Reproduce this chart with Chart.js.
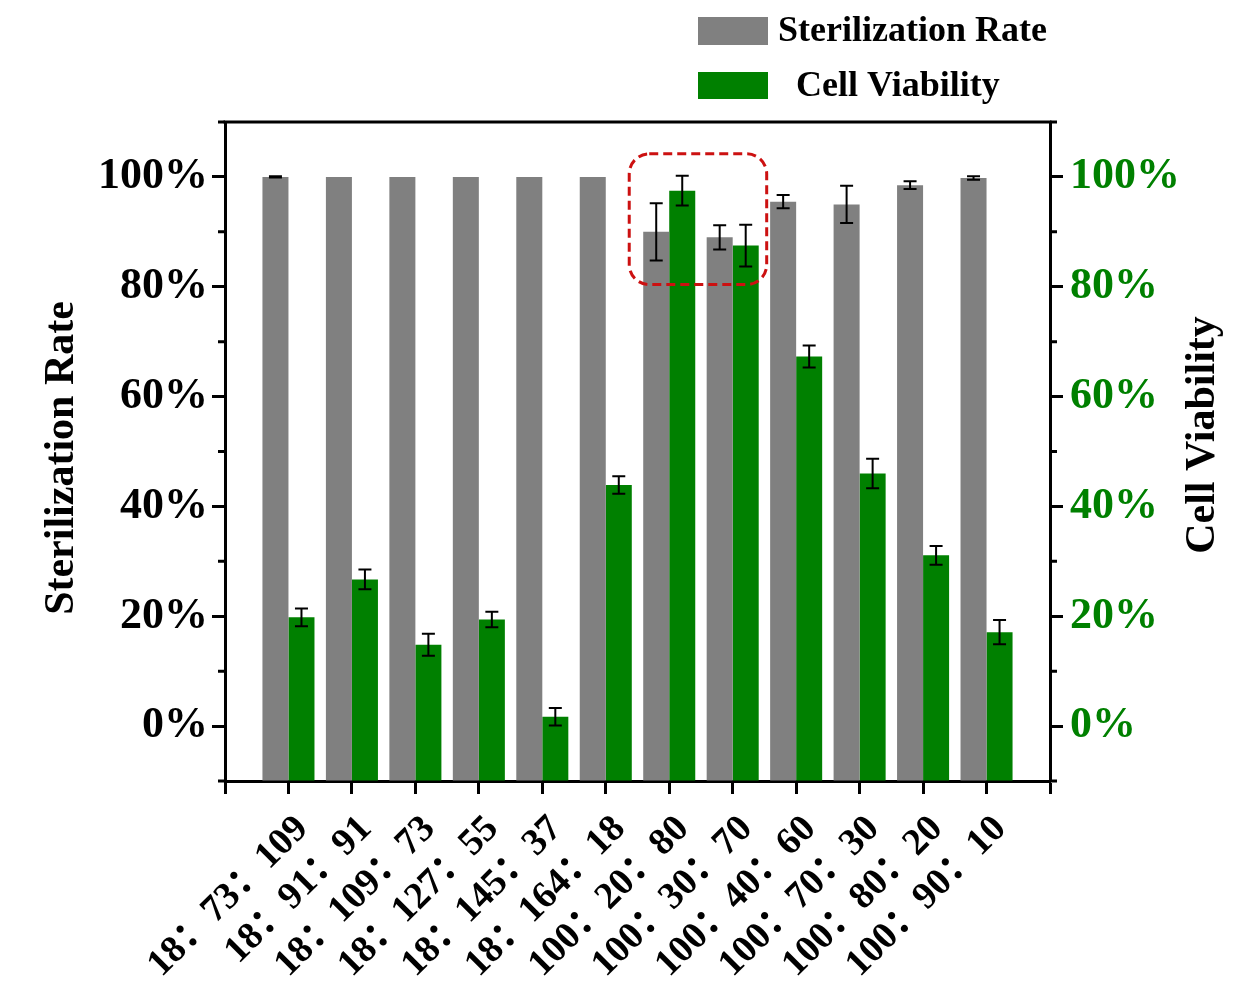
<!DOCTYPE html>
<html>
<head>
<meta charset="utf-8">
<script src="https://cdn.jsdelivr.net/npm/chart.js@4"></script>
<style>
  html, body { margin: 0; padding: 0; background: #fff; }
  #wrap { width: 1259px; height: 995px; position: relative; }
</style>
</head>
<body>
<div id="wrap"><canvas id="myChart" width="1259" height="995"></canvas></div>
<script>
// ratios shown on the x axis
categories = ["18：73：109", "18：91：91", "18：109：73", "18：127：55", "18：145：37", "18：164：18",
              "100：20：80", "100：30：70", "100：40：60", "100：70：30", "100：80：20", "100：90：10"];

sterilRate = [100, 100, 100, 100, 100, 100, 90, 89, 95.5, 95, 98.5, 99.8];
sterilErr  = [0.1, 0, 0, 0, 0, 0, 5.2, 2.2, 1.2, 3.4, 0.7, 0.3];

cellViab = [19.8, 26.7, 14.8, 19.4, 1.7, 43.9, 97.5, 87.5, 67.3, 46, 31.1, 17.1];
cellErr  = [1.6, 1.8, 2, 1.4, 1.6, 1.6, 2.7, 3.8, 2, 2.7, 1.7, 2.2];

yTicks = [0, 20, 40, 60, 80, 100];

const FONT = "'Liberation Serif', 'Times New Roman', 'Noto Sans CJK SC', serif";
const GRAY = "#808080";
const GREEN = "#008000";

// empty slot at each end so the ticks sit at 0..13
function pad(arr){ return [null].concat(arr, [null]); }
let labels = [""].concat(categories, [""]);

const extras = {
    id: "extras",
    afterDatasetsDraw(chart){
        const ctx = chart.ctx;
        const y = chart.scales.y;
        const x = chart.scales.x;
        const area = chart.chartArea;
        const errs = [pad(sterilErr), pad(cellErr)];
        const vals = [pad(sterilRate), pad(cellViab)];

        // error bars
        ctx.save();
        ctx.strokeStyle = "#000";
        ctx.lineWidth = 2;
        chart.data.datasets.forEach((ds, di) => {
            const meta = chart.getDatasetMeta(di);
            meta.data.forEach((bar, i) => {
                if (vals[di][i] == null || !errs[di][i]) return;
                const top = y.getPixelForValue(vals[di][i] + errs[di][i]);
                const bot = y.getPixelForValue(vals[di][i] - errs[di][i]);
                ctx.beginPath();
                ctx.moveTo(bar.x, top); ctx.lineTo(bar.x, bot);
                ctx.moveTo(bar.x - 6.5, top); ctx.lineTo(bar.x + 6.5, top);
                ctx.moveTo(bar.x - 6.5, bot); ctx.lineTo(bar.x + 6.5, bot);
                ctx.stroke();
            });
        });
        ctx.restore();

        // highlight box round groups 7 and 8
        ctx.save();
        const bx1 = x.getPixelForValue(7) - 40, bx2 = x.getPixelForValue(8) + 34;
        const by1 = y.getPixelForValue(104.2), by2 = y.getPixelForValue(80.4);
        ctx.strokeStyle = "#cc1111";
        ctx.lineWidth = 3;
        ctx.setLineDash([9, 5]);
        ctx.beginPath();
        ctx.roundRect(bx1, by1, bx2 - bx1, by2 - by1, 20);
        ctx.stroke();
        ctx.restore();

        // frame top + minor ticks
        ctx.save();
        ctx.strokeStyle = "#000";
        ctx.lineWidth = 3;
        ctx.beginPath();
        ctx.moveTo(area.left - 1.5, area.top);
        ctx.lineTo(area.right + 1.5, area.top);
        ctx.stroke();
        for (let v = -10; v <= 110; v += 20) {
            const py = y.getPixelForValue(v);
            ctx.beginPath();
            ctx.moveTo(area.left - 7, py); ctx.lineTo(area.left, py);
            ctx.moveTo(area.right, py); ctx.lineTo(area.right + 7, py);
            ctx.stroke();
        }
        ctx.restore();

        // axis titles
        ctx.save();
        ctx.font = "bold 42px " + FONT;
        ctx.fillStyle = "#000";
        ctx.textAlign = "center";
        ctx.textBaseline = "middle";
        ctx.translate(62, 458);
        ctx.rotate(-Math.PI / 2);
        ctx.fillText("Sterilization Rate", 0, 0);
        ctx.restore();

        ctx.save();
        ctx.font = "bold 42px " + FONT;
        ctx.fillStyle = "#000";
        ctx.textAlign = "center";
        ctx.textBaseline = "middle";
        ctx.translate(1203, 435);
        ctx.rotate(-Math.PI / 2);
        ctx.fillText("Cell Viability", 0, 0);
        ctx.restore();

        // legend
        ctx.save();
        ctx.fillStyle = GRAY;
        ctx.fillRect(698, 17, 70, 28);
        ctx.fillStyle = GREEN;
        ctx.fillRect(698, 72, 70, 27);
        ctx.font = "bold 36px " + FONT;
        ctx.fillStyle = "#000";
        ctx.textBaseline = "middle";
        ctx.fillText("Sterilization Rate", 778, 32);
        ctx.fillText("Cell Viability", 796, 87);
        ctx.restore();
    }
};

const ctx = document.getElementById("myChart");

new Chart(ctx, {
    type: "bar",
    data: {
        labels: labels,
        datasets: [{
            label: "Sterilization Rate",
            data: pad(sterilRate),
            backgroundColor: GRAY,
            base: -10,
            yAxisID: "y",
        }, {
            label: "Cell Viability",
            data: pad(cellViab),
            backgroundColor: GREEN,
            base: -10,
            yAxisID: "y",
        }]
    },
    options: {
        responsive: false,
        animation: false,
        events: [],
        layout: { padding: { top: 122, left: 0, right: 0, bottom: 0 } },
        plugins: { legend: { display: false }, tooltip: { enabled: false } },
        datasets: { bar: { categoryPercentage: 0.82, barPercentage: 1 } },
        scales: {
            x: {
                offset: false,
                grid: { drawOnChartArea: false, tickLength: 13, tickWidth: 3, tickColor: "#000", offset: false },
                border: { display: true, width: 3, color: "#000" },
                ticks: {
                    autoSkip: false, maxRotation: 45, minRotation: 45,
                    color: "#000", padding: 13, labelOffset: 14,
                    font: { family: FONT, size: 38, weight: "bold" }
                },
                afterFit(s){ s.height = 214; }
            },
            y: {
                position: "left",
                min: -10, max: 110,
                grid: { drawOnChartArea: false, tickLength: 13, tickWidth: 3,
                        tickColor: c => yTicks.includes(c.tick.value) ? "#000" : "rgba(0,0,0,0)" },
                border: { display: true, width: 3, color: "#000" },
                ticks: {
                    autoSkip: false, stepSize: 10, color: "#000", padding: 4,
                    font: { family: FONT, size: 44, weight: "bold" },
                    callback: v => yTicks.includes(v) ? v + "%" : ""
                },
                afterFit(s){ s.width = 225; }
            },
            y1: {
                position: "right",
                min: -10, max: 110,
                grid: { drawOnChartArea: false, tickLength: 13, tickWidth: 3,
                        tickColor: c => yTicks.includes(c.tick.value) ? "#000" : "rgba(0,0,0,0)" },
                border: { display: true, width: 3, color: "#000" },
                ticks: {
                    autoSkip: false, stepSize: 10, color: GREEN, padding: 7,
                    font: { family: FONT, size: 44, weight: "bold" },
                    callback: v => yTicks.includes(v) ? v + "%" : ""
                },
                afterFit(s){ s.width = 209; }
            }
        }
    },
    plugins: [extras]
});
</script>
</body>
</html>
